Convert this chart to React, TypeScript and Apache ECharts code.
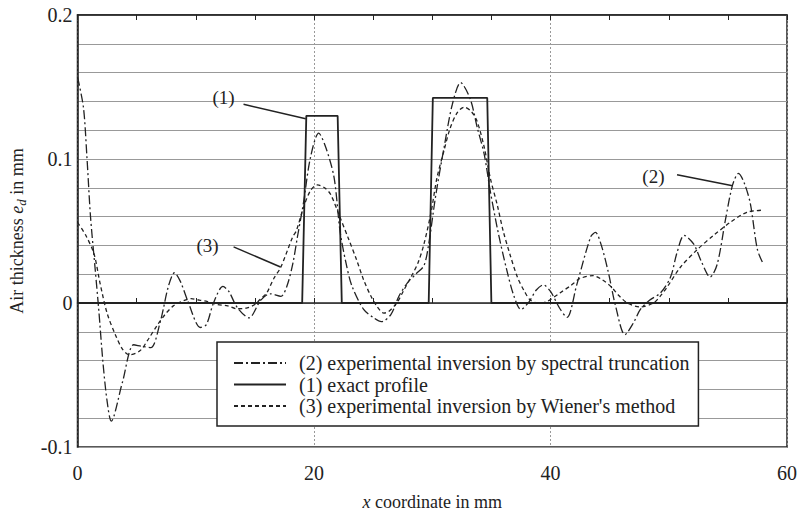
import React, { useEffect, useRef } from "react";
import * as echarts from "echarts";

// (2) experimental inversion by spectral truncation
const specX = [0.0, 0.5, 0.8, 1.1, 1.5, 1.8, 2.15, 2.5, 2.85, 3.8, 4.75, 5.4, 6.2, 7.0, 7.7, 8.2, 8.7, 9.3, 10.4, 10.9, 11.5, 12.3, 12.8, 13.5, 14.5, 15.5, 16.3, 17.2, 17.7, 18.2, 18.6, 19.1, 19.7, 20.4, 21.0, 21.7, 22.2, 22.7, 23.2, 24.2, 25.0, 25.7, 26.5, 27.2, 27.9, 28.6, 29.3, 29.7, 30.3, 31.0, 31.7, 32.4, 33.2, 33.8, 34.4, 34.9, 35.6, 36.3, 36.9, 37.5, 38.2, 38.8, 39.4, 40.0, 40.8, 41.4, 42.2, 43.4, 43.8, 44.3, 44.9, 45.5, 46.3, 47.0, 47.6, 48.4, 49.3, 50.15, 50.7, 51.3, 52.1, 52.8, 53.5, 54.1, 54.8, 55.4, 55.9, 56.4, 56.9, 57.5, 58.0];
const specY = [0.157, 0.136, 0.101, 0.06, 0.023, -0.005, -0.041, -0.068, -0.082, -0.055, -0.029, -0.03, -0.031, -0.013, 0.012, 0.021, 0.015, 0.002, -0.017, -0.015, 0.0, 0.0115, 0.008, -0.003, -0.0103, 0.002, 0.0064, 0.0046, 0.0115, 0.027, 0.046, 0.069, 0.101, 0.118, 0.108, 0.087, 0.05, 0.028, 0.012, -0.0045, -0.01, -0.013, -0.008, 0.005, 0.014, 0.02, 0.026, 0.041, 0.075, 0.108, 0.138, 0.153, 0.142, 0.122, 0.103, 0.078, 0.048, 0.023, 0.005, -0.0045, 0.001, 0.009, 0.0126, 0.008, -0.004, -0.01, 0.012, 0.046, 0.049, 0.04, 0.021, -0.002, -0.022, -0.014, -0.0045, 0.002, 0.007, 0.018, 0.035, 0.047, 0.041, 0.028, 0.018, 0.027, 0.058, 0.082, 0.09, 0.083, 0.069, 0.037, 0.027];

// (1) exact profile
const exactX = [0, 19.0, 19.35, 22.0, 22.35, 29.7, 30.05, 34.65, 35.0, 60];
const exactY = [0, 0, 0.13, 0.13, 0, 0, 0.1425, 0.1425, 0, 0];

// (3) experimental inversion by Wiener's method
const wienerX = [0, 0.7, 1.4, 1.9, 2.5, 3.2, 3.8, 4.4, 5.3, 6.0, 6.7, 7.4, 8.1, 8.8, 9.6, 10.3, 11.0, 11.8, 12.7, 13.5, 14.35, 15.0, 15.5, 16.0, 16.6, 17.2, 18.2, 18.5, 19.1, 19.7, 20.3, 20.9, 21.4, 22.2, 22.9, 23.6, 24.2, 24.8, 25.3, 25.9, 26.3, 27.0, 27.6, 28.2, 28.8, 29.3, 29.9, 30.4, 31.0, 31.5, 32.1, 32.7, 33.3, 33.8, 34.4, 34.9, 35.5, 36.0, 36.6, 37.2, 37.8, 38.3, 39.0, 39.7, 40.8, 41.7, 42.5, 43.6, 44.4, 45.1, 45.8, 46.5, 47.6, 48.7, 49.3, 49.9, 51.0, 52.4, 53.8, 55.2, 56.6, 58.0];
const wienerY = [0.056, 0.047, 0.034, 0.014, -0.007, -0.022, -0.032, -0.036, -0.033, -0.025, -0.016, -0.008, -0.002, 0.001, 0.003, 0.002, 0.001, -0.001, -0.002, -0.004, -0.0034, -0.001, 0.003, 0.007, 0.017, 0.025, 0.046, 0.05, 0.066, 0.078, 0.082, 0.08, 0.0755, 0.0595, 0.045, 0.03, 0.016, 0.005, -0.002, -0.007, -0.006, 0.0, 0.009, 0.018, 0.028, 0.041, 0.063, 0.087, 0.106, 0.121, 0.132, 0.136, 0.133, 0.126, 0.108, 0.087, 0.068, 0.05, 0.033, 0.018, 0.008, 0.002, 0.0, 0.001, 0.007, 0.012, 0.017, 0.019, 0.016, 0.0115, 0.005, 0.0, -0.0027, 0.0, 0.005, 0.0115, 0.025, 0.037, 0.047, 0.056, 0.063, 0.0645];

const seriesNames = [
  "(2) experimental inversion by spectral truncation",
  "(1) exact profile",
  "(3) experimental inversion by Wiener's method",
];

// annotation labels: text anchor and leader line (data coordinates)
const annotLabels = ["(1)", "(3)", "(2)"];
const annotText = [[12.35, 0.143], [11.0, 0.04], [48.7, 0.088]];
const annotFrom = [[14.04, 0.138], [13.2, 0.039], [50.7, 0.089]];
const annotTo = [[19.3, 0.128], [17.17, 0.025], [55.4, 0.0814]];

const zip = (xs: number[], ys: number[]) => xs.map((x, i) => [x, ys[i]]);

const FONT = "'Liberation Serif', 'DejaVu Serif', serif";
const INK = "#222";

export default function App() {
  const ref = useRef<HTMLDivElement>(null);
  useEffect(() => {
    if (!ref.current) return;
    const chart = echarts.init(ref.current, undefined, { renderer: "svg" });
    const xCommon = {
      type: "value" as const,
      min: 0,
      max: 60,
      interval: 20,
      axisLine: { show: true, lineStyle: { color: INK, width: 1.5 } },
      axisTick: { show: true, inside: true, length: 5, lineStyle: { color: INK } },
      minorTick: { show: true, splitNumber: 4, length: 5, lineStyle: { color: INK } },
    };
    chart.setOption({
      animation: false,
      backgroundColor: "#fff",
      grid: {
        left: 77,
        right: 25,
        top: 15,
        bottom: 64,
        show: true,
        borderColor: INK,
        borderWidth: 1.5,
      },
      legend: {
        data: seriesNames,
        orient: "vertical",
        left: 217,
        top: 342,
        backgroundColor: "#fff",
        borderColor: INK,
        borderWidth: 1.5,
        borderRadius: 0,
        padding: [11, 9, 10, 16],
        itemWidth: 52,
        itemHeight: 14,
        itemGap: 1.5,
        selectedMode: false,
        itemStyle: { opacity: 0 },
        textStyle: { fontFamily: FONT, fontSize: 20, color: INK, lineHeight: 20, padding: [0, 0, 0, 8] },
      },
      xAxis: [
        {
          ...xCommon,
          position: "bottom",
          axisLabel: { fontFamily: FONT, fontSize: 20, color: INK, margin: 16 },
          splitLine: { show: true, lineStyle: { color: "#999", width: 1, type: [2, 2] } },
          name: "{i|x} coordinate in mm",
          nameLocation: "middle",
          nameGap: 46,
          nameTextStyle: {
            fontFamily: FONT,
            fontSize: 18,
            color: INK,
            rich: { i: { fontFamily: FONT, fontSize: 18, fontStyle: "italic", color: INK } },
          },
        },
        {
          ...xCommon,
          position: "top",
          axisLabel: { show: false },
          splitLine: { show: false },
        },
      ],
      yAxis: {
        type: "value",
        min: -0.1,
        max: 0.2,
        interval: 0.02,
        axisLine: { show: true, lineStyle: { color: INK, width: 1.5 } },
        axisTick: { show: false },
        axisLabel: {
          fontFamily: FONT,
          fontSize: 20,
          color: INK,
          margin: 5,
          formatter: (v: number) => {
            const r = Math.round(v * 100);
            return r % 10 === 0 ? String(r / 100) : "";
          },
        },
        splitLine: { show: true, lineStyle: { color: "#999", width: 1 } },
        name: "Air thickness {i|e}{s|d} in mm",
        nameLocation: "middle",
        nameGap: 50,
        nameTextStyle: {
          fontFamily: FONT,
          fontSize: 18,
          color: INK,
          rich: {
            i: { fontFamily: FONT, fontSize: 18, fontStyle: "italic", color: INK },
            s: { fontFamily: FONT, fontSize: 13, fontStyle: "italic", color: INK, verticalAlign: "bottom", padding: [8, 0, 0, 0] },
          },
        },
      },
      series: [
        {
          name: seriesNames[0],
          type: "line",
          data: zip(specX, specY),
          symbol: "none",
          smooth: 0.3,
          lineStyle: { color: INK, width: 1.3, type: [9, 3, 2, 3] },
          itemStyle: { color: INK },
          z: 3,
        },
        {
          name: seriesNames[1],
          type: "line",
          data: zip(exactX, exactY),
          symbol: "none",
          lineStyle: { color: INK, width: 1.8, type: "solid" },
          itemStyle: { color: INK },
          z: 2,
        },
        {
          name: seriesNames[2],
          type: "line",
          data: zip(wienerX, wienerY),
          symbol: "none",
          smooth: 0.3,
          lineStyle: { color: INK, width: 1.3, type: [4, 3] },
          itemStyle: { color: INK },
          z: 3,
        },
      ],
    });

    const px = (p: number[]) => chart.convertToPixel({ gridIndex: 0 }, p) as number[];
    const graphics: any[] = [];
    annotLabels.forEach((lab, i) => {
      const t = px(annotText[i]);
      const a = px(annotFrom[i]);
      const b = px(annotTo[i]);
      graphics.push({
        type: "text",
        x: t[0],
        y: t[1],
        style: { text: lab, fontFamily: FONT, fontSize: 19, fill: INK, align: "center", verticalAlign: "middle" },
        z: 10,
      });
      graphics.push({
        type: "line",
        shape: { x1: a[0], y1: a[1], x2: b[0], y2: b[1] },
        style: { stroke: INK, lineWidth: 1.5 },
        z: 10,
      });
    });
    chart.setOption({ graphic: graphics });

    return () => chart.dispose();
  }, []);
  return (
    <div
      ref={ref}
      style={{ position: "fixed", left: 0, top: 0, width: 812, height: 516, background: "#fff" }}
    />
  );
}
